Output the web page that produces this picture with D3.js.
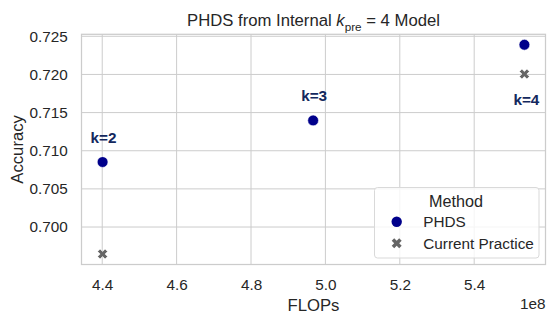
<!DOCTYPE html>
<html>
<head>
<meta charset="utf-8">
<script src="https://cdn.jsdelivr.net/npm/d3@7"></script>
<style>
  body { margin: 0; background: #fff; }
  text { font-family: "Liberation Sans", Arial, sans-serif; fill: #262626; }
</style>
</head>
<body>
<svg width="557" height="323"></svg>
<script>
// data (FLOPs in units of 1e8)
var kLabels = ['k=2', 'k=3', 'k=4'];
var phdsFlops = [4.401, 4.967, 5.535];
var phdsAcc = [0.70852, 0.71397, 0.72389];
var currentFlops = [4.401, 5.535];
var currentAcc = [0.69646, 0.72005];
var xTicks = [4.4, 4.6, 4.8, 5.0, 5.2, 5.4];
var yTicks = [0.700, 0.705, 0.710, 0.715, 0.720, 0.725];

var pLeft = 81.5, pRight = 545.5, pTop = 34.3, pBottom = 264.5;
var svg = d3.select('svg');

// matplotlib style 5% margins
var allX = phdsFlops.concat(currentFlops), allY = phdsAcc.concat(currentAcc);
var xe = d3.extent(allX), ye = d3.extent(allY);
var mx = (xe[1] - xe[0]) * 0.05, my = (ye[1] - ye[0]) * 0.05;

var x = d3.scaleLinear().domain([xe[0] - mx, xe[1] + mx]).range([pLeft, pRight]);
var y = d3.scaleLinear().domain([ye[0] - my, ye[1] + my]).range([pBottom, pTop]);

// grid
svg.append('g').selectAll('line').data(xTicks).join('line')
	.attr('x1', d => x(d)).attr('x2', d => x(d))
	.attr('y1', pTop).attr('y2', pBottom)
	.attr('stroke', '#cccccc').attr('stroke-width', 1);
svg.append('g').selectAll('line').data(yTicks).join('line')
	.attr('x1', pLeft).attr('x2', pRight)
	.attr('y1', d => y(d)).attr('y2', d => y(d))
	.attr('stroke', '#cccccc').attr('stroke-width', 1);

// frame
svg.append('rect')
	.attr('x', pLeft).attr('y', pTop)
	.attr('width', pRight - pLeft).attr('height', pBottom - pTop)
	.attr('fill', 'none').attr('stroke', '#cccccc').attr('stroke-width', 1.25);

// axes (labels only, seaborn whitegrid has no tick marks)
var xAxis = d3.axisBottom(x).tickValues(xTicks).tickSize(0).tickPadding(15)
	.tickFormat(d3.format('.1f'));
var gx = svg.append('g').attr('transform', 'translate(0,' + pBottom + ')').call(xAxis);
var yAxis = d3.axisLeft(y).tickValues(yTicks).tickSize(0).tickPadding(13.8)
	.tickFormat(d3.format('.3f'));
var gy = svg.append('g').attr('transform', 'translate(' + pLeft + ',0)').call(yAxis);
[gx, gy].forEach(function(g) {
	g.select('.domain').remove();
	g.selectAll('text').style('font-family', '"Liberation Sans", Arial, sans-serif')
		.style('font-size', '15.3px').attr('fill', '#262626');
});

// axis labels
svg.append('text').attr('x', (pLeft + pRight) / 2).attr('y', 311)
	.attr('text-anchor', 'middle').style('font-size', '16.7px').text('FLOPs');
svg.append('text').attr('x', pRight).attr('y', 308.5)
	.attr('text-anchor', 'end').style('font-size', '15.3px').text('1e8');
svg.append('text').attr('transform', 'translate(23,' + ((pTop + pBottom) / 2) + ') rotate(-90)')
	.attr('text-anchor', 'middle').style('font-size', '16.7px').text('Accuracy');

// title
var title = svg.append('text').attr('x', (pLeft + pRight) / 2).attr('y', 26)
	.attr('text-anchor', 'middle').style('font-size', '16.7px');
title.append('tspan').text('PHDS from Internal ');
title.append('tspan').style('font-style', 'italic').text('k');
title.append('tspan').attr('dy', 4.5).style('font-size', '11.7px').text('pre');
title.append('tspan').attr('dy', -4.5).text(' = 4 Model');

// points
var blue = '#00008b', grey = '#666666';
var xSym = d3.symbol().type(d3.symbolCross).size(62);

svg.append('g').selectAll('circle').data(phdsFlops).join('circle')
	.attr('cx', d => x(d)).attr('cy', (d, i) => y(phdsAcc[i]))
	.attr('r', 5.4).attr('fill', blue).attr('stroke', '#fff').attr('stroke-width', 0.6);

svg.append('g').selectAll('path').data(currentFlops).join('path')
	.attr('d', xSym)
	.attr('transform', (d, i) => 'translate(' + x(d) + ',' + y(currentAcc[i]) + ') rotate(45)')
	.attr('fill', grey).attr('stroke', '#fff').attr('stroke-width', 0.6);

// annotations
svg.append('g').selectAll('text').data(kLabels).join('text')
	.attr('x', (d, i) => x(phdsFlops[i]) + (i == 2 ? 2 : 1))
	.attr('y', function(d, i) {
		if (i == 2) return y(currentAcc[1]) + 31;
		return y(phdsAcc[i]) - 19.5;
	})
	.attr('text-anchor', 'middle')
	.style('font-size', '15.3px').style('font-weight', 'bold')
	.style('fill', '#13285e')
	.text(d => d);

// legend
var lg = svg.append('g');
lg.append('rect').attr('x', 374.5).attr('y', 187.5).attr('width', 164.5).attr('height', 70.5)
	.attr('rx', 3).attr('fill', '#fff').attr('fill-opacity', 0.8)
	.attr('stroke', '#d9d9d9').attr('stroke-width', 1);
lg.append('text').attr('x', 456).attr('y', 206.5).attr('text-anchor', 'middle')
	.style('font-size', '16.2px').text('Method');
lg.append('circle').attr('cx', 396.7).attr('cy', 221.7).attr('r', 5.2).attr('fill', blue);
lg.append('text').attr('x', 423.3).attr('y', 227).style('font-size', '15.3px').text('PHDS');
lg.append('path').attr('d', xSym).attr('transform', 'translate(396.7,243.3) rotate(45)').attr('fill', grey);
lg.append('text').attr('x', 423.3).attr('y', 248.5).style('font-size', '15.3px').text('Current Practice');
</script>
</body>
</html>
